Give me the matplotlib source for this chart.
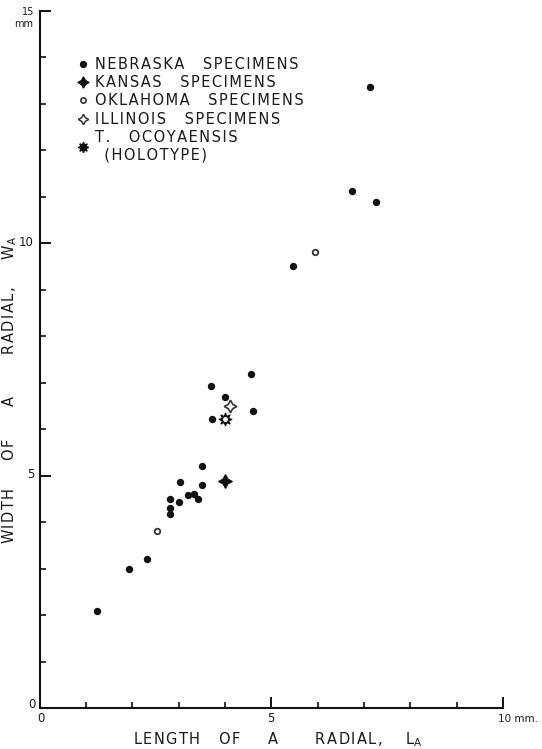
import matplotlib
matplotlib.use("Agg")
import matplotlib.pyplot as plt
from matplotlib.lines import Line2D
from matplotlib.ticker import MultipleLocator

# Data (mm)
neb_x = [1.25, 1.93, 2.33, 2.82, 2.82, 2.82, 3.00, 3.04, 3.20, 3.33, 3.41, 3.51, 3.51,
         3.72, 3.69, 4.00, 4.57, 4.60, 5.48, 6.75, 7.25, 7.14]
neb_y = [2.09, 3.00, 3.20, 4.18, 4.31, 4.49, 4.42, 4.86, 4.59, 4.60, 4.49, 4.79, 5.20,
         6.21, 6.92, 6.69, 7.18, 6.39, 9.50, 11.12, 10.88, 13.35]
kan_x = [4.00]
kan_y = [4.89]
okl_x = [2.53, 5.95]
okl_y = [3.80, 9.81]
ill_x = [4.11]
ill_y = [6.49]
hol_x = [4.00]
hol_y = [6.21]

legend_labels = [["NEBRASKA", "SPECIMENS"], ["KANSAS", "SPECIMENS"],
                 ["OKLAHOMA", "SPECIMENS"], ["ILLINOIS", "SPECIMENS"],
                 ["T.", "OCOYAENSIS", "\n", "(HOLOTYPE)"]]

SP = '\u200a'


def spaced_words(words, gap):
    lines = [[]]
    for w in words:
        if w == "\n":
            lines.append([])
        else:
            lines[-1].append(SP.join(w))
    return '\n'.join(gap.join(l) for l in lines)


plt.rcParams['font.family'] = ['DejaVu Sans']
fig = plt.figure(figsize=(5.42, 7.49), dpi=100)
W, H = 542, 749
ax = fig.add_axes([39.5 / W, 41 / H, 463.5 / W, 697.5 / H])
ax.set_xlim(0, 10)
ax.set_ylim(0, 15)
for s in ['top', 'right']:
    ax.spines[s].set_visible(False)
for s in ['left', 'bottom']:
    ax.spines[s].set_linewidth(1.5)
    ax.spines[s].set_color('#111111')

ax.xaxis.set_major_locator(MultipleLocator(5))
ax.xaxis.set_minor_locator(MultipleLocator(1))
ax.yaxis.set_major_locator(MultipleLocator(5))
ax.yaxis.set_minor_locator(MultipleLocator(1))
ax.tick_params(which='major', direction='in', length=8, width=1.4, color='#111111')
ax.tick_params(which='minor', direction='in', length=4, width=1.2, color='#111111')
ax.tick_params(labelbottom=False, labelleft=False)

col = '#111111'
ax.plot(neb_x, neb_y, 'o', ls='none', color=col, ms=4.3, mec=col)
ax.plot(kan_x, kan_y, marker=(4, 1, 0), ls='none', color=col, ms=10, mew=0.8)
ax.plot(okl_x, okl_y, 'o', ls='none', mfc='white', mec='#333333', ms=4, mew=1.3)
ax.plot(ill_x, ill_y, marker=(4, 1, 0), ls='none', mfc='white', mec='#333333', ms=9, mew=1.2)
ax.plot(hol_x, hol_y, marker=(8, 1, 0), ls='none', color=col, ms=9.5, mew=0.8)
ax.plot(hol_x, hol_y, 'o', ls='none', mfc='white', mec='white', ms=2.5)

tc = '#1a1a1a'


def ftext(px, py, s, **kw):
    fig.text(px / W, 1 - py / H, s, color=tc, **kw)


# tick labels
ftext(40.5, 719, "0", ha='center', va='center', fontsize=8.5)
ftext(271, 719, "5", ha='center', va='center', fontsize=8.5)
ftext(498, 719, "10 mm.", ha='left', va='center', fontsize=7.5)
ftext(36, 705, "0", ha='right', va='center', fontsize=8.5)
ftext(35, 474, "5", ha='right', va='center', fontsize=8.5)
ftext(34, 243, "10", ha='right', va='center', fontsize=8.5)
ftext(34, 12, "15", ha='right', va='center', fontsize=7)
ftext(33, 24, "mm", ha='right', va='center', fontsize=7)

# axis labels
xl = SP.join("LENGTH") + "    " + SP.join("OF") + "      " + SP.join("A") + "        " + \
    SP.join("RADIAL,") + "     " + r"L$_{\mathregular{A}}$"
yl = SP.join("WIDTH") + "      " + SP.join("OF") + "       " + SP.join("A") + "         " + \
    SP.join("RADIAL,") + "      " + r"W$_{\mathregular{A}}$"
ftext(278, 740, xl, ha='center', va='center', fontsize=10.5)
ftext(10, 390, yl, ha='center', va='center', rotation=90, fontsize=10.5)

# legend
handles = [
    Line2D([], [], marker='o', ls='none', color=col, ms=4.2),
    Line2D([], [], marker=(4, 1, 0), ls='none', color=col, ms=8),
    Line2D([], [], marker='o', ls='none', mfc='white', mec='#333333', ms=3.8, mew=1.2),
    Line2D([], [], marker=(4, 1, 0), ls='none', mfc='white', mec='#333333', ms=7.5, mew=1.1),
    Line2D([], [], marker=(8, 1, 0), ls='none', color=col, ms=7.5),
]
labels = [spaced_words(w, "    ") for w in legend_labels]
labels[4] = labels[4].replace("\n", "\n  ")
leg = ax.legend(handles, labels, loc='upper left',
                bbox_to_anchor=(79 / W, 1 - 57 / H), bbox_transform=fig.transFigure,
                frameon=False, handlelength=0.6, handletextpad=0.5, labelspacing=0.22,
                borderaxespad=0, borderpad=0, prop={'size': 10.5})
for t in leg.get_texts():
    t.set_color(tc)

fig.savefig("out.png", dpi=100, facecolor='white')
